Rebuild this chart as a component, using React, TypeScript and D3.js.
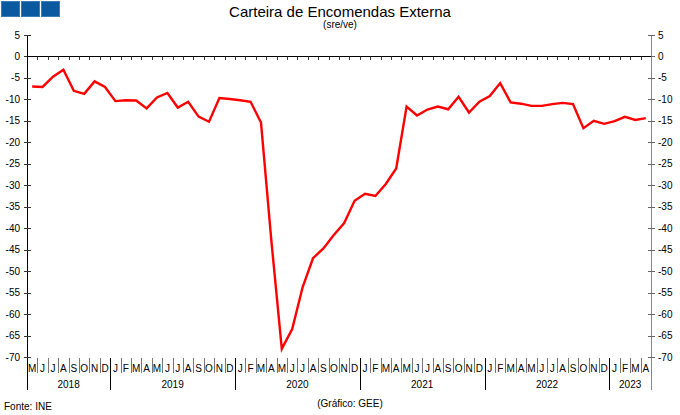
import React from "react";
import * as d3 from "d3";

const monthLetters = ["J", "F", "M", "A", "M", "J", "J", "A", "S", "O", "N", "D"];
const startYear = 2018;
const startMonth = 4; // May
const yTicks = [5, 0, -5, -10, -15, -20, -25, -30, -35, -40, -45, -50, -55, -60, -65, -70];

const values2018 = [-7.0, -7.1, -4.7, -3.1, -8.0, -8.7, -5.8, -7.1];
const values2019 = [-10.4, -10.2, -10.25, -12.1, -9.55, -8.5, -11.9, -10.55, -14.0, -15.2, -9.7, -9.9];
const values2020 = [-10.2, -10.55, -15.4, -43.0, -68.1, -63.5, -53.75, -47.0, -44.7, -41.6, -38.8, -33.6];
const values2021 = [-32.0, -32.5, -29.7, -26.1, -11.65, -13.75, -12.35, -11.65, -12.3, -9.4, -13.05, -10.55];
const values2022 = [-9.2, -6.2, -10.7, -11.0, -11.5, -11.5, -11.1, -10.8, -11.1, -16.7, -15.0, -15.7];
const values2023 = [-15.05, -14.05, -14.8, -14.35];

const values = [...values2018, ...values2019, ...values2020, ...values2021, ...values2022, ...values2023];

const W = 680;
const H = 415;
const left = 27;
const right = 651;
const top = 35;
const bottom = 357;
const font = "Arial, 'Liberation Sans', sans-serif";

export default function App() {
  const n = values.length;
  const x = d3.scaleLinear().domain([0, n]).range([left, right]);
  const y = d3.scaleLinear().domain([-70, 5]).range([bottom, top]);
  const line = d3
    .line<number>()
    .x((_, i) => x(i + 0.5))
    .y((d) => y(d));

  const months = values.map((_, i) => {
    const m = (startMonth + i) % 12;
    const yr = startYear + Math.floor((startMonth + i) / 12);
    return { m, yr, letter: monthLetters[m] };
  });

  const groups: { label: string; start: number; end: number }[] = [];
  months.forEach((mo, i) => {
    const lbl = String(mo.yr);
    const g = groups[groups.length - 1];
    if (!g || g.label !== lbl) groups.push({ label: lbl, start: i, end: i + 1 });
    else g.end = i + 1;
  });

  return (
    <svg width={W} height={H} style={{ position: "absolute", left: 0, top: 0, background: "#fff" }} fontFamily={font}>
      <rect x={0} y={0} width={W} height={H} fill="#fff" />
      {[1, 21, 41].map((bx) => (
        <rect key={bx} x={bx + 0.5} y={1.5} width={18} height={15} fill="#0B5AA0" stroke="#3B7DB8" strokeWidth={1} />
      ))}
      <text x={340} y={16.5} textAnchor="middle" fontSize={15} fill="#000">
        Carteira de Encomendas Externa
      </text>
      <text x={340} y={28} textAnchor="middle" fontSize={10} fill="#000">
        (sre/ve)
      </text>

      <line x1={left + 0.5} x2={left + 0.5} y1={top} y2={390} stroke="#000" />
      <line x1={right + 0.5} x2={right + 0.5} y1={top} y2={390} stroke="#888" />
      {yTicks.map((t) => (
        <g key={t}>
          <line x1={left - 3} x2={left + 4} y1={Math.round(y(t)) + 0.5} y2={Math.round(y(t)) + 0.5} stroke="#333" />
          <line x1={right - 3} x2={right + 4} y1={Math.round(y(t)) + 0.5} y2={Math.round(y(t)) + 0.5} stroke="#666" />
          <text x={20} y={y(t) + 3.5} textAnchor="end" fontSize={10}>
            {t}
          </text>
          <text x={658} y={y(t) + 3.5} textAnchor="start" fontSize={10}>
            {t}
          </text>
        </g>
      ))}

      <line x1={left} x2={right} y1={Math.round(y(0)) + 0.5} y2={Math.round(y(0)) + 0.5} stroke="#000" />
      {d3.range(1, n).map((i) => (
        <line key={"zt" + i} x1={Math.round(x(i)) + 0.5} x2={Math.round(x(i)) + 0.5} y1={y(0)} y2={y(0) + 3.5} stroke="#333" />
      ))}

      {d3.range(1, n).map((i) => {
        const isYear = months[i].m === 0;
        return (
          <line
            key={"ms" + i}
            x1={Math.round(x(i)) + 0.5}
            x2={Math.round(x(i)) + 0.5}
            y1={bottom + 1}
            y2={isYear ? 390 : 373}
            stroke={isYear ? "#000" : "#777"}
          />
        );
      })}
      {months.map((mo, i) => (
        <text key={"ml" + i} x={x(i + 0.5)} y={372} textAnchor="middle" fontSize={10}>
          {mo.letter}
        </text>
      ))}
      {groups.map((g) => (
        <text key={g.label} x={(x(g.start) + x(g.end)) / 2} y={388} textAnchor="middle" fontSize={10}>
          {g.label}
        </text>
      ))}

      <path d={line(values) || ""} fill="none" stroke="#FF0000" strokeWidth={2.4} strokeLinejoin="miter" />

      <text x={4} y={410} fontSize={10}>
        Fonte: INE
      </text>
      <text x={350} y={407} textAnchor="middle" fontSize={10}>
        (Gráfico: GEE)
      </text>
    </svg>
  );
}
